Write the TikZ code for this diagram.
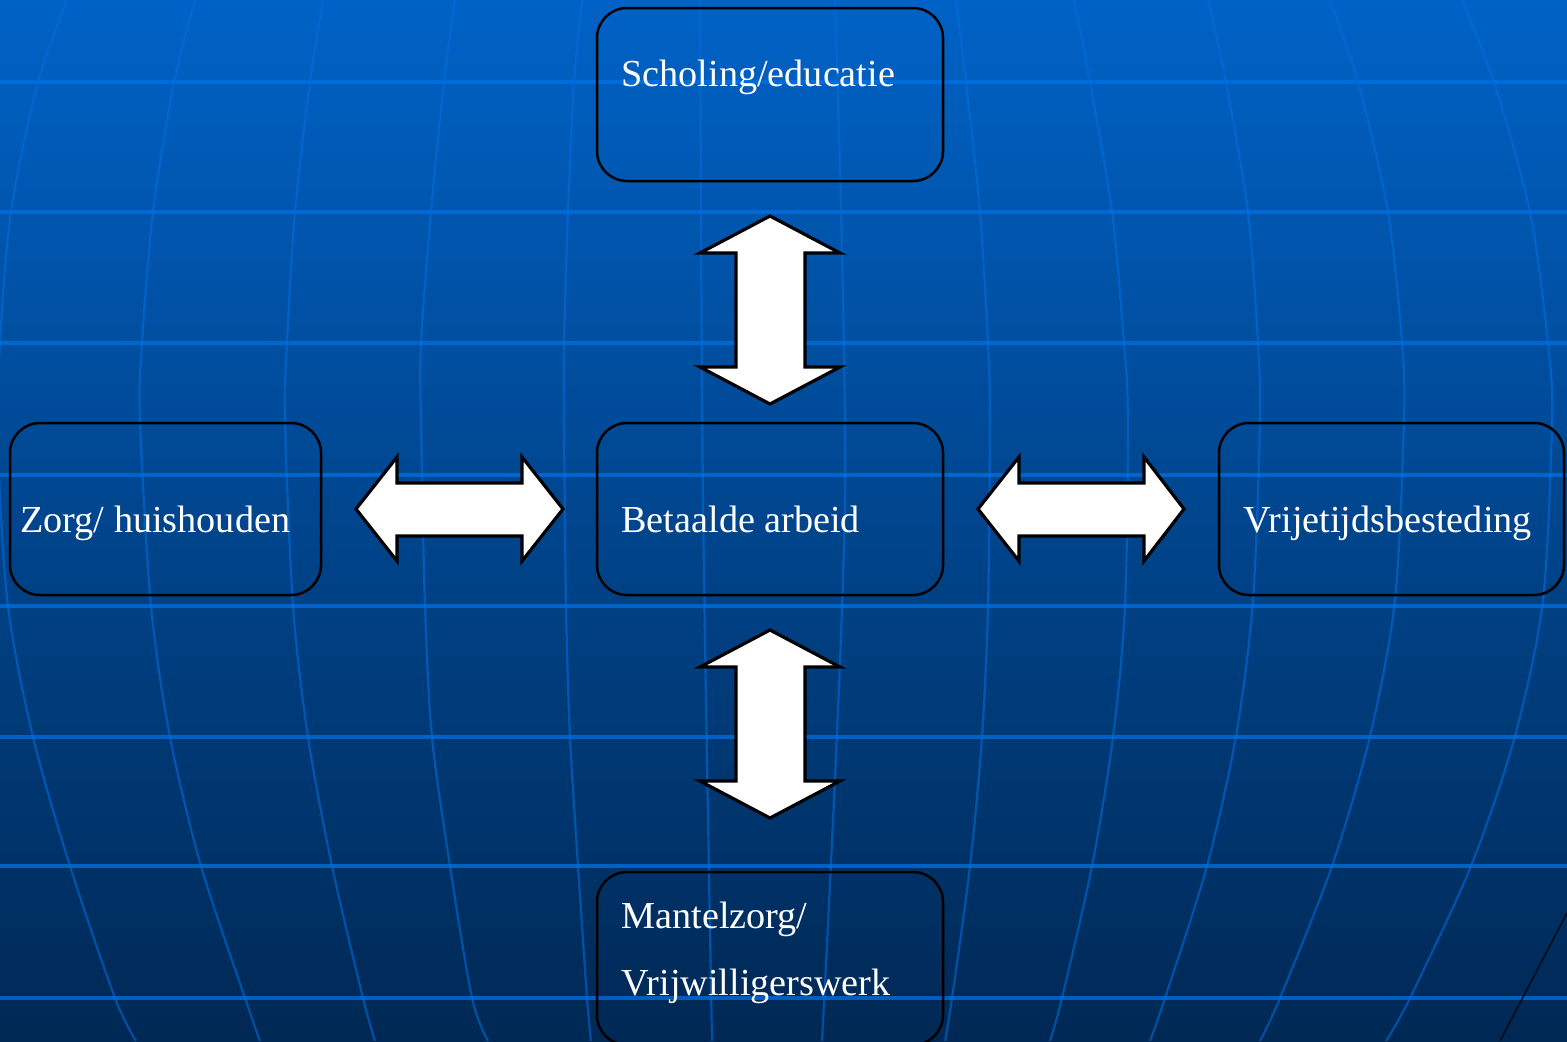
\documentclass[tikz,border=0pt]{standalone}
\usepackage{fontspec}
\setmainfont{Liberation Serif}
\definecolor{bgtop}{RGB}{0,98,198}
\definecolor{bgmid}{RGB}{0,72,146}
\definecolor{bgbot}{RGB}{0,40,84}
\definecolor{gridc}{RGB}{0,112,228}
\tikzset{
  box/.style={draw=black, line width=1.25pt, rounded corners=15pt, fill=none, inner sep=0pt},
  lbl/.style={text=white, inner sep=0pt, anchor=base west, font=\fontsize{19.1}{24}\selectfont},
  blockarrow/.style={draw=black, fill=white, line width=1.6pt, line join=miter},
  hline/.style={draw=gridc, opacity=0.75, line width=1.6pt},
  meridian/.style={draw=gridc, opacity=0.55, line width=1.1pt},
}
\begin{document}
\begin{tikzpicture}[x=0.5pt,y=-0.5pt]
\useasboundingbox (0,0) rectangle (1567,1041);
% background
\shade[top color=bgtop, middle color=bgmid, bottom color=bgbot] (0,0) rectangle (1567,1041);
% horizontal grid lines
\foreach \yy in {82,212,343,475,606,737,866,998}
  \draw[hline] (0,\yy) -- (1567,\yy);
% meridians
\draw[meridian] plot[smooth] coordinates {(67,0) (38,82) (11,212) (0,343) (-2,450) (8,606) (33,737) (70,866) (115,998) (136,1041)};
\draw[meridian] plot[smooth] coordinates {(195,0) (174,82) (153,212) (142,343) (140,420) (151,606) (170,737) (201,866) (245,998) (260,1041)};
\draw[meridian] plot[smooth] coordinates {(323,0) (310,82) (295,212) (287,343) (285,420) (293,606) (308,737) (332,866) (363,998) (375,1041)};
\draw[meridian] plot[smooth] coordinates {(455,0) (444,82) (431,212) (421,343) (421,420) (425,606) (432,737) (450,866) (472,998) (488,1041)};
\draw[meridian] plot[smooth] coordinates {(582,0) (574,82) (568,212) (564,343) (564,420) (566,606) (570,737) (578,866) (587,998) (591,1041)};
\draw[meridian] plot[smooth] coordinates {(700,0) (703,500) (712,1041)};
\draw[meridian] plot[smooth] coordinates {(835,0) (845,500) (822,1041)};
\draw[meridian] plot[smooth] coordinates {(956,0) (966,82) (980,212) (988,343) (990,420) (988,606) (982,737) (970,866) (952,998) (945,1041)};
\draw[meridian] plot[smooth] coordinates {(1074,0) (1090,82) (1112,212) (1124,343) (1128,420) (1125,606) (1113,737) (1092,866) (1062,998) (1050,1041)};
\draw[meridian] plot[smooth] coordinates {(1208,0) (1226,82) (1248,212) (1258,343) (1260,420) (1253,600) (1236,736) (1207,866) (1165,998) (1150,1041)};
\draw[meridian] plot[smooth] coordinates {(1330,0) (1358,82) (1388,212) (1402,343) (1404,420) (1395,600) (1370,736) (1332,866) (1280,998) (1260,1041)};
\draw[meridian] plot[smooth] coordinates {(1462,0) (1494,82) (1530,212) (1548,343) (1552,420) (1543,600) (1515,736) (1471,866) (1410,998) (1386,1041)};
% thin dark diagonal edge bottom right
\draw[black!70!bgbot, line width=0.8pt] (1567,913) -- (1500,1041);

% boxes
\node[box, minimum width=173pt, minimum height=86.5pt] (school) at (770,94.5) {};
\node[box, minimum width=173pt, minimum height=86pt] (work) at (770,509) {};
\node[box, minimum width=155.5pt, minimum height=86pt] (care) at (165.5,509) {};
\node[box, minimum width=172.5pt, minimum height=86pt] (leisure) at (1391.5,509) {};
\node[box, minimum width=173pt, minimum height=86.5pt] (volunteer) at (770,958.5) {};

% labels
\node[lbl] (tschool) at (621,86) {Scholing/educatie};
\node[lbl] (twork) at (621,532) {Betaalde arbeid};
\node[lbl] (tcare) at (20,532) {Zorg/ huishouden};
\node[lbl] (tleisure) at (1243,532) {Vrijetijdsbesteding};
\node[lbl] (tvol1) at (621,928) {Mantelzorg/};
\node[lbl] (tvol2) at (621,995) {Vrijwilligerswerk};

% block arrows
\draw[blockarrow] (770,216) -- (840,253) -- (805,253) -- (805,367) -- (840,367) -- (770,404)
  -- (700,367) -- (736,367) -- (736,253) -- (700,253) -- cycle;
\draw[blockarrow] (770,630) -- (840,667) -- (805,667) -- (805,781) -- (840,781) -- (770,818)
  -- (700,781) -- (736,781) -- (736,667) -- (700,667) -- cycle;
\draw[blockarrow] (356,509) -- (397,457) -- (397,483) -- (522,483) -- (522,457) -- (563,509)
  -- (522,561) -- (522,536) -- (397,536) -- (397,561) -- cycle;
\draw[blockarrow] (978,509) -- (1019,457) -- (1019,483) -- (1144,483) -- (1144,457) -- (1184,509)
  -- (1144,561) -- (1144,536) -- (1019,536) -- (1019,561) -- cycle;
\end{tikzpicture}
\end{document}
